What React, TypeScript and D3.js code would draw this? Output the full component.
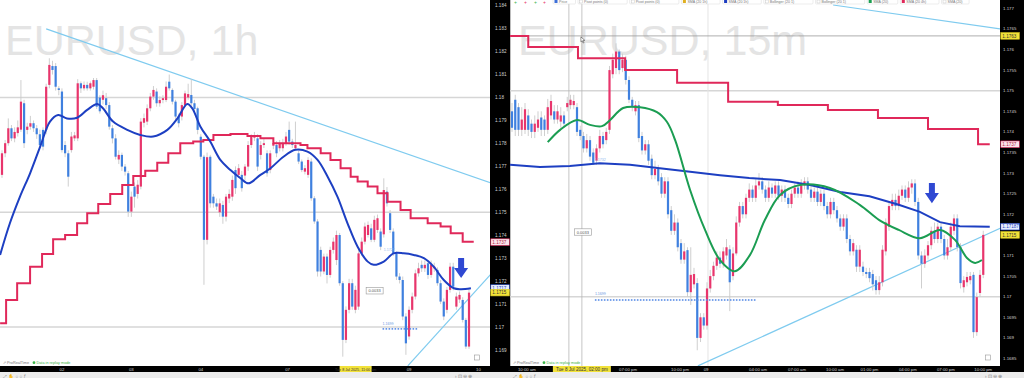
import React from "react";
import * as d3 from "d3";

// All prices are in pips above 1.1700 (e.g. 50 => 1.1750)
const BASE = 1.17;
const PIP = 0.0001;
const p = (v: number) => BASE + v * PIP;

// ---------- Left panel (EURUSD 1h) : [open, close, high, low] ----------
const leftCandles: number[][] = [
  [66.3,75.7,77,65],[75.7,80.1,81.5,74],[80.1,86.6,90.9,79],[86.6,82.2,88,81],[82.2,85,87,80.5],
  [84.5,87,90,83],[86,98.2,107.6,85],[97.5,80.1,99,78],[85.9,87.3,89,84],[87.3,88.8,92,86],
  [88.8,86.6,90,85],[86.6,84,88,82],[84,79.3,86,78],[85.9,78.6,87,77],[85.9,104.7,106,84],
  [105.5,114.2,117.1,104],[113.7,112,116,110],[113.7,104.7,115,103],[104,103.3,105,101],[102.6,77.1,104,76],
  [79.3,75.7,81,74],[75.7,65.5,77,61.2],[77.1,83,85,76],[82.2,83.5,85,81],[82.2,106.2,108,81],
  [106.2,104,107,102],[104,105.5,107,103],[105.5,104,106.9,103],[104,106.2,107,103],[104.7,107.6,108.5,103.5],
  [107.6,96,108.5,95],[100,94,101,93],[99,101,103,97],[99.7,96.7,102,95],[96.7,87.3,98,86],
  [86.6,82.2,88,80],[82.2,74.2,84,73],[73,75,77,71],[75,69.9,76,68],[69.9,67.7,71,66],
  [67,50.3,68,48],[50.3,56.8,59,48],[61.2,56.8,63,52],[58,62,64,56],[61.2,89.5,91,60],
  [89,91,93,87],[89.5,95.3,97,88],[95.3,100.4,102,94],[100.4,103.3,105,99],[102.6,97.5,104,96],
  [97.5,98.9,100.5,96],[98.9,99.7,101,97.5],[98.9,104.7,107,98],[106.9,104,110,103],[103.3,98.2,104,97],
  [98.2,91.7,99,90],[91.7,88.8,93,87],[91.7,96.7,98,90],[96.7,101.8,103,96],[100,101.5,106,99],
  [101.1,97.5,108,96],[97.5,95,99,93],[95.3,85.9,96,84],[82.9,74.2,84,73],[74.2,38,75,18.4],
  [38,74,76,36],[74.2,53.9,75,52],[56.8,53.9,58,52],[53.9,52.5,56,51],[50,53.9,56,48],
  [53.2,48.1,55,45],[48.1,56.8,58,46],[56,58,60,54],[56.8,64.1,66,55],[68.4,60.5,70,58],
  [66.3,69.2,71,65],[66.3,60.5,68,59],[66,69.9,71,64],[69.9,79.3,81,68],[79.3,82.9,84,78],
  [82.5,83.5,85,81],[82.2,69.9,84,68],[75,79.3,81,73],[79.3,80.1,82,78],[75.7,67,77,65.5],
  [68.4,75.7,77,67],[79,80.1,82,77.5],[79.3,75.7,81,74],[77.9,80.1,81.5,76.5],[77.9,80.1,82,76.5],
  [80,83,85,79],[85.9,80.8,89.5,79.5],[80.8,79.3,82,78],[77.9,79.3,89.5,77],[75.7,72.1,77,71],
  [72.1,68.4,73,67.5],[67.7,69.2,70.5,66.5],[66.3,72.8,74,65],[72.1,56.1,73.5,55],[56.1,46,57,45],
  [46,24.2,47,22],[33.6,24.2,35,22],[24.2,30.7,32,23],[30.7,22.7,32,19],[22.7,33.6,35,21.5],
  [33.6,37.2,39,32],[29.2,40.1,42,27],[40.1,19.1,41,18],[19.1,-5.6,20,-12.9],[-5.6,7.5,9,-7],
  [7.5,19.1,21,6],[19.1,8.9,21,7.5],[7.5,16.2,18,6],[8.9,32.1,34,7.5],[32.1,37.2,39,31],
  [37.2,43.8,45.5,36],[40.1,44.5,46,39],[43,38,45,37],[38,46.7,48.5,37],[42.3,47.4,49,41],
  [41.6,35,43,33.5],[40.4,59.7,64.8,39],[59,53.9,61,52.5],[49.6,42.3,51,41],[41.6,32.1,43,31],
  [32.1,22,33,20.5],[22,20.5,23.5,19],[20.5,4.6,22,3],[4.6,-7.1,6,-12.1],[-4.1,7.5,9,-5.5],
  [7.5,13.3,15,6],[13.3,23.4,25,12],[23.4,25.6,28,22],[27.1,25.6,29,24],[25.6,27.1,29,24],
  [27.8,22.7,29,21],[22.7,27.1,29,21.5],[25.6,26.3,28,24],[24.9,19.1,26,18],[19.1,11.1,20.5,10],
  [11.1,4.6,12.5,3],[7.5,16.2,17.5,6],[16.2,26.3,28,15],[26.3,17.6,28,16],[8.9,13.3,15,7.5],
  [12,14,15.5,10.5],[11.8,3.1,13,2],[3.1,-8.5,4,-9.5],[-8.5,15,16.5,-9.5],
];

// SMA (blue) on left: [candle index, pips]
const leftSma: number[][] = [
  [-0.6,31.4],[2.5,45.2],[5.7,56.8],[8.9,67],[12.1,78.6],[15.2,89.5],[17.8,92.4],[20.6,90.9],[23.8,91.2],
  [27,94.6],[30.2,97.2],[32,95.3],[35.2,89.5],[39.7,85.9],[43.8,83.7],[47.9,83],[52.4,85.9],[55.6,90.9],
  [58.7,97.2],[60.3,95.3],[62.9,87.3],[66,80.8],[69.2,72.8],[72.4,68.4],[75.6,64.8],[78.1,62.6],[81.9,66.3],
  [85.1,69.2],[89.2,74.2],[93,77.2],[96.8,76.4],[100,72.8],[103.2,65.5],[106.3,56.8],[109.5,45.2],[112.7,35],
  [115.9,28.5],[117.8,27.1],[121,28.5],[124.1,32.1],[127.3,32.1],[130.5,31.4],[133.7,30],[136.8,26.3],
  [140,20.5],[143.2,16.9],[145.4,16.5],[148.6,16.9],
];

// Higher-timeframe SMA (red steps) on left: [candle index, pips]
const leftSteps: number[][] = [
  [-0.6,1.7],[1.3,11.8],[4.8,19.1],[8.9,26.3],[12.7,31.8],[16.2,38.2],[20,40.1],[23.8,45.2],[27,49.6],
  [30.5,53.6],[34.3,58],[38.1,61.9],[41.6,65.8],[45.4,68.1],[49.2,71.6],[52.7,75.7],[56.5,80.1],[60.6,80.8],
  [63.8,81.5],[67,83.7],[72.4,84.1],[77.8,83.2],[81.9,82.2],[86,80.1],[94.6,79.3],[96.8,77.9],[101,75.7],
  [104.1,72.8],[107.3,69.2],[110.5,65.5],[112.7,63.4],[115.9,61.2],[119,58.3],[122.2,54.6],[126.3,51],
  [129.5,47.4],[134.9,45.2],[139,43.8],[142.2,40.9],[146,37.2],[149.5,37.2],
];

const leftTrend1 = [[14, 129.9], [155, 62.8]];
const leftTrend2 = [[128.6, -16.9], [155, 23.1]];
const leftDots = { from: 120.6, to: 132, level: -0.8 };
const leftArrow = { index: 145.5, top: 30.1, tip: 21.4 };

const leftTicks = [1.184,1.183,1.182,1.181,1.18,1.179,1.178,1.177,1.176,1.175,1.174,1.173,1.172,1.171,1.17,1.169];
const leftGrid = [1.18, 1.175, 1.17];
const leftTimes: [string, number][] = [["02",19],["03",41],["04",63],["07",90.5],["09",129],["10",151]];

// ---------- Right panel (EURUSD 15m) : [open, close, high, low] ----------
const rightCandles: number[][] = [
  [45,41,47,40],[47.8,40.5,49,39],[46,40.5,47,39],[40.5,43,46,39],[40.5,45.5,47,39.5],
  [44,40.5,45.5,39],[42,40,43,38.5],[40,42,44,38.5],[41,43,45,40],[43.5,40.5,45,39],
  [43,40.5,44,39],[40.5,46,48,39.5],[44,47.5,49,43],[45,43,46.5,42],[43,45,46.5,42],
  [42.5,44,46,41],[44,42,45,41],[46,47,48.5,45],[46.5,47.8,49,45.5],[46.5,47.5,49,45.5],
  [46,40,47,39],[40.5,39,41.5,38],[39,36,40,35],[36,38,39.5,35],[38,34,39,33],
  [35,32.5,36,32],[33,36,37,32],[36,39,40.5,35],[39,37,40,36],[38,40,41,37],
  [40.5,55,56,39.5],[54,57.5,59,53],[55.5,59.5,61.5,54],[59.5,55,60,54],[55.5,57.5,59,54.5],
  [57.5,52.6,58.5,51.5],[52.6,47.8,53.5,47],[47.8,46,48.5,45],[45,46.5,47.5,44],[46.5,38.5,47.5,37.5],
  [39,35.5,40,34.5],[35.5,37,38,34.5],[37,33,38,32],[33.5,29.5,34.5,28.5],[29.5,31,33,28.5],
  [31,28,32,27],[29,25,30,24],[25,28,29,24],[28,20,29,19],[21,16,22,15],
  [16,18,20,15],[18,12,19,11],[13,9,14,8],[9,11,13,8],[11.3,1.1,12,0],
  [1.1,5.3,12,-2],[3,5.5,7,2],[3.3,-10,4.5,-13],[-10,-5,-4,-11],[-5,-7,-4,-8],
  [-7,2,3.5,-8],[2,5,6.5,1],[5,7.5,8.5,4],[7.5,9.5,11,6.5],[9.5,8,11,7],
  [8,11,12,7],[10,12,14,9],[11.5,3.5,12.5,-3.5],[5,10.5,12,4],[10.5,18,19.5,10],
  [18,22,23,17],[22,20,23,19],[20,24,25,19],[24,26,27.5,23],[26,24,27,23],
  [24,27,28.5,23],[27,28,30,26],[28,26,29,25],[26,24,27,23],[24,26.5,28,23],
  [26.5,25,27.5,24],[25,27,28,24],[27,24.5,28,23.5],[24.5,26,27,23],[26,24,27,23],
  [24,22.5,25,21.5],[22.5,25,26,21.5],[25,26.5,27.5,24],[26.5,25,28,24],[25,27,28.5,24],
  [27,28,29,26],[28,26,29,25],[26,24,27,23],[24,25.5,26.5,23],[25.5,23,26.5,22],
  [23,25,26,22],[25,22,26,21],[22,20,23,19],[20,23,24,19],[23,21,24,20],
  [21,19,22,18],[19,17,20,16],[17,19,20,16],[19,14,20,13],[14,11,15,10],
  [11,13,14,10],[11.4,7.3,12.5,6],[7.3,11.4,12.5,6],[7.3,6,8.5,5],[6,5.5,7,4.5],
  [6,4.5,7,3.5],[5.5,3,6.5,1.5],[4,1.6,5,0.5],[1.6,3.5,5,0.5],[3.5,11.4,12.5,2.5],
  [11,18,19,10],[17,22,23,16],[22,23.5,25,21],[23.5,22,25,21],[22,24.5,26,21],
  [24.5,26,27,23.5],[26,24,27,23],[24,26.5,28,23],[26.5,27.5,28.5,25],[27.5,23,28.5,22],
  [23,10,24,9],[10,8,11,2],[8,10,11.5,7],[10,12.5,13.5,9],[12.5,16,17,11.5],
  [16,14,18,13],[14,17,18,13],[17,14,18,13],[14,10,15,9],[10,12,14,9],
  [12,17,18,11],[16,19,20,15],[19,12,20,11],[12,3.3,13,2],[2.3,4,5,1],
  [3.5,4.8,6,2.5],[4,5,6,3],[5.3,-8.6,6,-10],[-8.6,-0.1,1,-9.5],[0.9,5.3,6.5,0],
  [5.3,15,16,4.5],
];

const rightGreen: number[][] = [
  [11,37.5],[14.8,40.5],[20,42.9],[24,41.7],[27.7,41.4],[30.2,42.9],[34.2,45.8],[39.4,46],[44.6,44.8],
  [47.7,42.4],[50.2,38],[54.8,25.9],[59.4,16.2],[64,8.9],[68.6,6.2],[73.2,10.1],[77.8,18.6],[82.5,24.7],
  [88.6,27.1],[97.8,26.4],[107,22.3],[113,18.6],[119,16.2],[125.5,14.2],[131.7,16.2],[136.3,13.8],
  [140,9.4],[142.5,8.2],[144.6,8.9],
];
const rightBlue: number[][] = [
  [-0.6,32],[8.6,31.5],[17.8,31.7],[27,32.4],[36.3,32],[45.5,31.2],[54.8,30.3],[64,29.5],[73,28.8],
  [82.5,28.3],[91.7,27.1],[101,25.4],[110,24.4],[119,22.3],[125.5,20.6],[131.7,18.1],[137.8,17.1],[147,17],
];
const rightSteps: number[][] = [
  [-0.6,63.3],[5,60.6],[20.3,57.9],[34.8,55],[50.8,51.9],[66.5,47.3],[81.8,46.5],[97.2,45.3],
  [112.6,43.4],[128,40.7],[143.4,37],[147,37],
];
const rightTrend1 = [[98.8, 70.8], [150.2, 65]];
const rightTrend2 = [[57.2, -16.8], [150.2, 16.6]];
const rightDots = { from: 25.5, to: 74.8, level: -0.8 };
const rightArrow = { index: 129.2, top: 27.6, tip: 22.7 };
const rightCursor = [17.5, 21.5];
const rightDaySep = 60.3;

const rightTicks = [1.177,1.1765,1.176,1.1755,1.175,1.1745,1.174,1.1735,1.173,1.1725,1.172,1.171,1.1705,1.17,1.1695,1.169,1.1685];
const rightGrid = [1.175, 1.17];
const rightTimes: [string, number][] = [
  ["10:00 am",4.6],["07:00 pm",35.7],["10:00 pm",51.7],["09",59.7],["04:00 am",75.7],["07:00 am",87.7],
  ["10:00 am",99.4],["01:00 pm",110],["04:00 pm",121.8],["07:00 pm",133.5],["10:00 pm",145],
];
const legendItems: [string, string][] = [
  ["Price","#3d6fd8"],["Pivot points (0)",""],["Pivot points (0)",""],["SMA (20 1h)","#e0b020"],
  ["SMA (20 1h)","#1c3cc0"],["Bollinger (20 1)",""],["Bollinger (20 1)",""],["SMA (20)","#1a9e50"],
  ["SMA (20 4h)","#e0285a"],["SMA (20)",""],
];

const UP = "#e8356c";
const DOWN = "#3f80df";
const WICK = "#c9c9c9";
const SMA_BLUE = "#1d3fc2";
const STEP_RED = "#e0285a";
const GREEN = "#1b9d52";
const TREND = "#7fcbef";
const FONT = "'Liberation Sans', Arial, sans-serif";

function fmtTick(v: number) {
  return String(+v.toFixed(4));
}

function Candles({ candles, x, y }: { candles: number[][]; x: any; y: any }) {
  const w = 2.2;
  return (
    <g>
      {candles.map((c, i) => {
        const [o, cl, h, l] = c;
        const cx = x(i);
        const up = cl >= o;
        const yt = y(p(Math.max(o, cl)));
        const yb = y(p(Math.min(o, cl)));
        return (
          <g key={i}>
            <line x1={cx} x2={cx} y1={y(p(h))} y2={y(p(l))} stroke={WICK} strokeWidth={0.9} />
            <rect x={cx - w / 2} y={yt} width={w} height={Math.max(1, yb - yt)} fill={up ? UP : DOWN} />
          </g>
        );
      })}
    </g>
  );
}

function Arrow({ cx, top, tip }: { cx: number; top: number; tip: number }) {
  const h = tip - top;
  const mid = top + h * 0.5;
  const pts = [
    [cx - 3, top], [cx + 3, top], [cx + 3, mid], [cx + 7, mid], [cx, tip], [cx - 7, mid], [cx - 3, mid],
  ].map((q) => q.join(",")).join(" ");
  return <polygon points={pts} fill="#2f48d2" />;
}

function Dots({ x, y, from, to, level }: any) {
  const n = Math.floor((x(to) - x(from)) / 3);
  const yy = y(p(level));
  return (
    <g>
      {d3.range(n + 1).map((k) => (
        <rect key={k} x={x(from) + k * 3} y={yy - 0.8} width={1.6} height={1.6} fill="#5b8ee6" />
      ))}
    </g>
  );
}

function AxisLabel({ x, y, text, fill, stroke, color }: any) {
  return (
    <g>
      <rect x={x} y={y - 3.3} width={18.5} height={6.6} fill={fill} stroke={stroke} strokeWidth={0.6} />
      <text x={x + 1.5} y={y + 1.7} fontSize={4.6} fill={color} fontFamily={FONT}>{text}</text>
    </g>
  );
}

export default function App() {
  const xL = d3.scaleLinear().domain([0, 148]).range([2, 469]);
  const yL = d3.scaleLinear().domain([1.169, 1.184]).range([350, 5.7]);
  const xR = d3.scaleLinear().domain([0, 145]).range([512, 983.25]);
  const yR = d3.scaleLinear().domain([1.1685, 1.177]).range([358.5, 8.3]);

  const lineL = d3.line<number[]>().x((d) => xL(d[0])).y((d) => yL(p(d[1]))).curve(d3.curveCatmullRom.alpha(0.5));
  const stepL = d3.line<number[]>().x((d) => xL(d[0])).y((d) => yL(p(d[1]))).curve(d3.curveStepAfter);
  const lineR = d3.line<number[]>().x((d) => xR(d[0])).y((d) => yR(p(d[1]))).curve(d3.curveCatmullRom.alpha(0.5));
  const jagR = d3.line<number[]>().x((d) => xR(d[0])).y((d) => yR(p(d[1]))).curve(d3.curveLinear);
  const stepR = d3.line<number[]>().x((d) => xR(d[0])).y((d) => yR(p(d[1]))).curve(d3.curveStepAfter);
  const segL = d3.line<number[]>().x((d) => xL(d[0])).y((d) => yL(p(d[1])));
  const segR = d3.line<number[]>().x((d) => xR(d[0])).y((d) => yR(p(d[1])));

  let legX = 553;
  const legend = legendItems.map(([t, c], k) => {
    const w = t.length * 2.7 + (c ? 9 : 6);
    const g = (
      <g key={k}>
        <rect x={legX} y={-2} width={w} height={6} rx={1} fill="#fff" stroke="#d8d8d8" strokeWidth={0.5} />
        {c ? <rect x={legX + 1.5} y={0} width={3} height={3} fill={c} /> : <rect x={legX + 1.5} y={0} width={3} height={3} fill="none" stroke="#bbb" strokeWidth={0.4} />}
        <text x={legX + 6} y={3} fontSize={3.6} fill="#777" fontFamily={FONT}>{t}</text>
      </g>
    );
    legX += w + 2.5;
    return g;
  });

  return (
    <div style={{ position: "fixed", left: 0, top: 0 }}>
      <svg width={1024} height={378} style={{ display: "block", background: "#fff" }}>
        <defs>
          <clipPath id="clipL"><rect x={0} y={0} width={490} height={366} /></clipPath>
          <clipPath id="clipR"><rect x={510} y={4} width={490} height={362} /></clipPath>
        </defs>

        {/* ---------- LEFT PANEL ---------- */}
        <g clipPath="url(#clipL)">
          <text x={5} y={55} fontSize={43} fill="#e4e4e4" fontFamily={FONT}>EURUSD, 1h</text>
          {leftGrid.map((g) => (
            <line key={g} x1={0} x2={490} y1={yL(g)} y2={yL(g)} stroke="#d6d6d6" strokeWidth={1.6} />
          ))}
          <path d={segL(leftTrend1) || ""} stroke={TREND} strokeWidth={1.2} fill="none" />
          <path d={segL(leftTrend2) || ""} stroke={TREND} strokeWidth={1.2} fill="none" />
          <Candles candles={leftCandles} x={xL} y={yL} />
          <path d={stepL(leftSteps) || ""} stroke={STEP_RED} strokeWidth={2} fill="none" />
          <path d={lineL(leftSma) || ""} stroke={SMA_BLUE} strokeWidth={2} fill="none" />
          <Dots x={xL} y={yL} {...leftDots} />
          <text x={xL(120.6)} y={yL(p(1))} fontSize={3.6} fill="#6a96e0" fontFamily={FONT}>1.1699</text>
          <text x={xL(121)} y={yL(p(33))} fontSize={3.6} fill="#8fb8ee" fontFamily={FONT}>1.1727</text>
          <rect x={xL(115.4)} y={yL(p(15.8)) - 3.2} width={17} height={6.4} fill="#fff" stroke="#999" strokeWidth={0.6} />
          <text x={xL(115.4) + 2.3} y={yL(p(15.8)) + 1.5} fontSize={4} fill="#555" fontFamily={FONT}>0.0033</text>
          <Arrow cx={xL(leftArrow.index)} top={yL(p(leftArrow.top))} tip={yL(p(leftArrow.tip))} />
          <rect x={xL(150.5) - 2.5} y={355} width={5} height={5} fill="none" stroke="#999" strokeWidth={0.6} />
        </g>
        <text x={3} y={364} fontSize={3.8} fill="#777" fontFamily={FONT}>⇗ ProRealTime</text>
        <circle cx={34} cy={362.7} r={1.4} fill="#3cb44a" />
        <text x={36.5} y={364} fontSize={3.8} fill="#3cb44a" fontFamily={FONT}>Data in replay mode</text>

        {/* left price axis */}
        <rect x={490} y={0} width={20} height={372} fill="#000" />
        {leftTicks.map((t) => (
          <text key={t} x={495} y={yL(t) + 1.5} fontSize={4.6} fill="#cfcfcf" fontFamily={FONT}>{fmtTick(t)}</text>
        ))}
        <AxisLabel x={490.8} y={yL(p(37))} text="1.1737" fill="#fbe3ea" stroke={STEP_RED} color="#b01f48" />
        <AxisLabel x={490.8} y={yL(p(17))} text="1.1717" fill="#e8eefc" stroke={SMA_BLUE} color="#1d3fc2" />
        <AxisLabel x={490.8} y={yL(p(15))} text="1.1715" fill="#f2e23a" stroke="#d8c820" color="#333" />
        {/* left time axis */}
        <rect x={0} y={366} width={490} height={6} fill="#000" />
        {leftTimes.map(([t, i]) => (
          <text key={t} x={xL(i)} y={370.6} fontSize={4.3} fill="#cfcfcf" textAnchor="middle" fontFamily={FONT}>{t}</text>
        ))}
        <rect x={xL(107)} y={366} width={32} height={6} fill="#f2e23a" />
        <text x={xL(107) + 16} y={370.6} fontSize={3.7} fill="#333" textAnchor="middle" fontFamily={FONT}>Tue 8 Jul 2025, 11:00 am</text>

        {/* ---------- RIGHT PANEL ---------- */}
        <line x1={510.5} x2={510.5} y1={0} y2={372} stroke="#bdbdbd" strokeWidth={1} />
        <g clipPath="url(#clipR)">
          <text x={518} y={55} fontSize={43} fill="#e4e4e4" fontFamily={FONT}>EURUSD, 15m</text>
          {rightGrid.map((g) => (
            <line key={g} x1={510} x2={1000} y1={yR(g)} y2={yR(g)} stroke="#d6d6d6" strokeWidth={1.4} />
          ))}
          <line x1={xR(rightDaySep)} x2={xR(rightDaySep)} y1={0} y2={366} stroke="#e4e4e4" strokeWidth={1} />
          {rightCursor.map((c) => (
            <line key={c} x1={xR(c)} x2={xR(c)} y1={0} y2={366} stroke="#b5b5b5" strokeWidth={0.8} />
          ))}
          <line x1={510} x2={1000} y1={yR(1.17633)} y2={yR(1.17633)} stroke="#9a9a9a" strokeWidth={0.8} />
          <path d={segR(rightTrend1) || ""} stroke={TREND} strokeWidth={1.2} fill="none" />
          <path d={segR(rightTrend2) || ""} stroke={TREND} strokeWidth={1.2} fill="none" />
          <Candles candles={rightCandles} x={xR} y={yR} />
          <path d={stepR(rightSteps) || ""} stroke={STEP_RED} strokeWidth={2} fill="none" />
          <path d={jagR(rightBlue) || ""} stroke={SMA_BLUE} strokeWidth={2} fill="none" />
          <path d={lineR(rightGreen) || ""} stroke={GREEN} strokeWidth={2} fill="none" />
          <Dots x={xR} y={yR} {...rightDots} />
          <text x={xR(25.5)} y={yR(p(0.4))} fontSize={3.6} fill="#6a96e0" fontFamily={FONT}>1.1699</text>
          <text x={xR(25.5)} y={yR(p(33))} fontSize={3.6} fill="#8fb8ee" fontFamily={FONT}>1.1732</text>
          <rect x={xR(19.2)} y={yR(p(15.7)) - 3.2} width={17} height={6.4} fill="#fff" stroke="#999" strokeWidth={0.6} />
          <text x={xR(19.2) + 2.3} y={yR(p(15.7)) + 1.5} fontSize={4} fill="#555" fontFamily={FONT}>0.0033</text>
          <Arrow cx={xR(rightArrow.index)} top={yR(p(rightArrow.top))} tip={yR(p(rightArrow.tip))} />
          <path d={`M${xR(21.5) - 1},${yR(1.17633) + 1} l0,5 l1.3,-1.2 l1,2.3 l0.9,-0.4 l-1,-2.2 l1.8,0 z`} fill="#fff" stroke="#333" strokeWidth={0.5} />
          <rect x={xR(146.5) - 2.5} y={355} width={5} height={5} fill="none" stroke="#999" strokeWidth={0.6} />
        </g>
        {/* legend */}
        <g>
          <text x={514} y={3.5} fontSize={5} fill="#3cb44a" fontFamily={FONT}>+</text>
          <text x={524} y={3.5} fontSize={5} fill="#e8356c" fontFamily={FONT}>+</text>
          <text x={534} y={3.5} fontSize={5} fill="#3cb44a" fontFamily={FONT}>+</text>
          <text x={543} y={3.5} fontSize={5} fill="#e8356c" fontFamily={FONT}>+</text>
          {legend}
        </g>
        <text x={513} y={364} fontSize={3.8} fill="#777" fontFamily={FONT}>⇗ ProRealTime</text>
        <circle cx={544} cy={362.7} r={1.4} fill="#3cb44a" />
        <text x={546.5} y={364} fontSize={3.8} fill="#3cb44a" fontFamily={FONT}>Data in replay mode</text>

        {/* right price axis */}
        <rect x={1000} y={0} width={24} height={372} fill="#000" />
        {rightTicks.map((t) => (
          <text key={t} x={1003} y={yR(t) + 1.5} fontSize={4.4} fill="#cfcfcf" fontFamily={FONT}>{fmtTick(t)}</text>
        ))}
        <AxisLabel x={1000.8} y={yR(1.17633)} text="1.1763" fill="#f2e23a" stroke="#d8c820" color="#333" />
        <AxisLabel x={1000.8} y={yR(p(37))} text="1.1737" fill="#fbe3ea" stroke={STEP_RED} color="#b01f48" />
        <AxisLabel x={1000.8} y={yR(p(17))} text="1.17187" fill="#e8eefc" stroke={SMA_BLUE} color="#1d3fc2" />
        <AxisLabel x={1000.8} y={yR(p(15))} text="1.1715" fill="#f2e23a" stroke="#d8c820" color="#333" />
        {/* right time axis */}
        <rect x={510} y={366} width={490} height={6} fill="#000" />
        {rightTimes.map(([t, i], k) => (
          <text key={k} x={xR(i)} y={370.6} fontSize={4.3} fill="#cfcfcf" textAnchor="middle" fontFamily={FONT}>{t}</text>
        ))}
        <rect x={xR(21.5) - 29} y={366} width={58} height={6} fill="#f2e23a" />
        <text x={xR(21.5)} y={370.8} fontSize={4.6} fill="#333" textAnchor="middle" fontFamily={FONT}>Tue 8 Jul 2025, 02:00 pm</text>

        {/* bottom toolbar */}
        <rect x={0} y={372} width={1024} height={6} fill="#ececec" />
        <text x={3} y={377.5} fontSize={4.5} fill="#888" fontFamily={FONT}>⤢ ✋ ○ ○ ƒ</text>
        <text x={513} y={377.5} fontSize={4.5} fill="#888" fontFamily={FONT}>⤢ ✋ ○ ○ ƒ</text>
        <text x={455} y={377.5} fontSize={4.5} fill="#888" fontFamily={FONT}>› ⊡ ⊖ ⊕</text>
        <text x={985} y={377.5} fontSize={4.5} fill="#888" fontFamily={FONT}>› ⊡ ⊖ ⊕</text>
      </svg>
    </div>
  );
}
